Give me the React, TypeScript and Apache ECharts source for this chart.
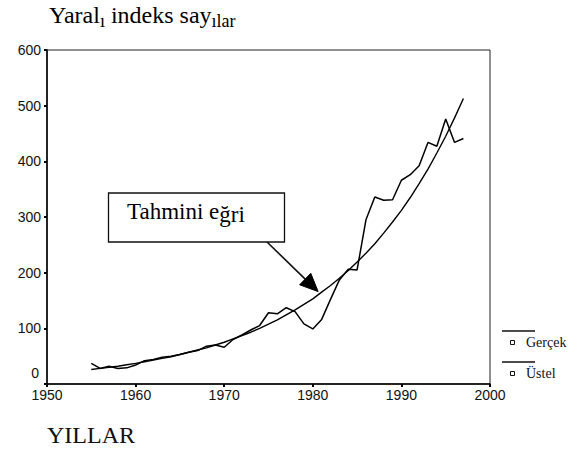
import React, { useEffect, useRef } from 'react';
import * as echarts from 'echarts';

const years = [
  1955, 1956, 1957, 1958, 1959, 1960, 1961, 1962, 1963, 1964,
  1965, 1966, 1967, 1968, 1969, 1970, 1971, 1972, 1973, 1974,
  1975, 1976, 1977, 1978, 1979, 1980, 1981, 1982, 1983, 1984,
  1985, 1986, 1987, 1988, 1989, 1990, 1991, 1992, 1993, 1994,
  1995, 1996, 1997,
];

// Gerçek (actual index values)
const gercek = [
  37, 28, 32, 28, 29, 34, 42, 44, 48, 50,
  53, 57, 60, 68, 70, 66, 80, 88, 97, 105,
  128, 126, 137, 130, 108, 99, 116, 152, 187, 206,
  205, 295, 336, 330, 331, 366, 376, 392, 434, 427,
  476, 434, 441,
];

// Üstel (exponential fitted curve)
const ustel = [
  26, 28, 30, 32, 34.5, 37, 40, 43, 46, 49,
  53, 57, 61, 65, 70, 75, 81, 87, 93, 100,
  107.5, 115, 124, 133, 143, 153, 165, 177, 190, 204,
  219, 235, 252, 271, 291, 312, 335, 360, 386, 415,
  445, 478, 513,
];

const xTicks = [1950, 2000, 10];
const yTicks = [0, 600, 100];
const legendNames = ['Gerçek', 'Üstel'];
const annotation = { label: 'Tahmini e', tail: 'ğri', year: 1980.6, value: 166 };

export default function App() {
  const ref = useRef<HTMLDivElement>(null);

  useEffect(() => {
    if (!ref.current) return;
    const chart = echarts.init(ref.current, null, { renderer: 'svg' });
    const serif = '"Liberation Serif", "Times New Roman", serif';
    const sans = '"Liberation Sans", Arial, sans-serif';

    chart.setOption({
      animation: false,
      backgroundColor: '#fff',
      grid: {
        left: 47,
        right: 92,
        top: 50,
        bottom: 68,
        show: true,
        borderColor: '#222',
        borderWidth: 1,
      },
      xAxis: {
        type: 'value',
        min: xTicks[0],
        max: xTicks[1],
        interval: xTicks[2],
        splitLine: { show: false },
        axisLine: { show: true, lineStyle: { color: '#000', width: 1.5 } },
        axisTick: { show: true, length: 3, lineStyle: { color: '#000', width: 2 } },
        axisLabel: {
          margin: 4,
          color: '#111',
          fontFamily: sans,
          fontSize: 14,
          formatter: (v: number) => String(v),
        },
      },
      yAxis: {
        type: 'value',
        min: yTicks[0],
        max: yTicks[1],
        interval: yTicks[2],
        splitLine: { show: false },
        axisLine: { show: true, lineStyle: { color: '#000', width: 1.5 } },
        axisTick: { show: true, length: 3, lineStyle: { color: '#000', width: 2 } },
        axisLabel: {
          margin: 6,
          color: '#111',
          fontFamily: sans,
          fontSize: 14,
          formatter: (v: number) => (v === 0 ? '{z|0}' : String(v)),
          rich: {
            z: { fontFamily: sans, fontSize: 14, color: '#111', padding: [0, 2, 22, 0] },
          },
        },
      },
      series: [
        {
          name: legendNames[0],
          type: 'line',
          data: years.map((y, i) => [y, gercek[i]]),
          symbol: 'none',
          lineStyle: { color: '#000', width: 1.5 },
        },
        {
          name: legendNames[1],
          type: 'line',
          data: years.map((y, i) => [y, ustel[i]]),
          symbol: 'none',
          lineStyle: { color: '#000', width: 1.4 },
        },
      ],
    });

    const tip = chart.convertToPixel({ gridIndex: 0 }, [annotation.year, annotation.value]) as number[];
    const start = [267, 242];
    const dx = tip[0] - start[0];
    const dy = tip[1] - start[1];
    const len = Math.sqrt(dx * dx + dy * dy);
    const ux = dx / len;
    const uy = dy / len;
    const headLen = 18;
    const headHalf = 8;
    const bx = tip[0] - ux * headLen;
    const by = tip[1] - uy * headLen;

    chart.setOption({
      graphic: [
        {
          type: 'text',
          left: 49,
          top: 3,
          style: {
            text: '{a|Yaral}{b|ı}{a| indeks say}{b|ılar}',
            rich: {
              a: { fontFamily: serif, fontSize: 24, lineHeight: 30, color: '#111', verticalAlign: 'middle' },
              b: { fontFamily: serif, fontSize: 18, lineHeight: 14, color: '#111', verticalAlign: 'bottom' },
            },
          },
        },
        {
          type: 'text',
          left: 47,
          top: 423,
          style: { text: 'YILLAR', fontFamily: serif, fontSize: 24, fill: '#111' },
        },
        {
          type: 'rect',
          shape: { x: 108.5, y: 193, width: 176, height: 49 },
          style: { fill: '#fff', stroke: '#111', lineWidth: 1.3 },
          z: 10,
        },
        {
          type: 'text',
          left: 127,
          top: 200,
          z: 11,
          style: {
            text: '{a|' + annotation.label + '}{b|' + annotation.tail + '}',
            rich: {
              a: { fontFamily: serif, fontSize: 23, lineHeight: 28, color: '#111', verticalAlign: 'middle' },
              b: { fontFamily: serif, fontSize: 23, lineHeight: 20, color: '#111', verticalAlign: 'bottom' },
            },
          },
        },
        {
          type: 'line',
          shape: { x1: start[0], y1: start[1], x2: bx, y2: by },
          style: { stroke: '#111', lineWidth: 1.6 },
          z: 12,
        },
        {
          type: 'polygon',
          shape: {
            points: [
              [tip[0], tip[1]],
              [bx - uy * headHalf, by + ux * headHalf],
              [bx + uy * headHalf, by - ux * headHalf],
            ],
          },
          style: { fill: '#000', stroke: '#000', lineWidth: 1 },
          z: 12,
        },
        // legend
        {
          type: 'line',
          shape: { x1: 502, y1: 331, x2: 535, y2: 331 },
          style: { stroke: '#111', lineWidth: 1.3 },
        },
        {
          type: 'rect',
          shape: { x: 510.5, y: 340.5, width: 4, height: 4 },
          style: { fill: 'none', stroke: '#111', lineWidth: 1 },
        },
        {
          type: 'text',
          left: 526,
          top: 335,
          style: { text: legendNames[0], fontFamily: serif, fontSize: 14, fill: '#111' },
        },
        {
          type: 'line',
          shape: { x1: 502, y1: 362, x2: 535, y2: 362 },
          style: { stroke: '#111', lineWidth: 1.3 },
        },
        {
          type: 'rect',
          shape: { x: 510.5, y: 371.5, width: 4, height: 4 },
          style: { fill: 'none', stroke: '#111', lineWidth: 1 },
        },
        {
          type: 'text',
          left: 526,
          top: 366,
          style: { text: legendNames[1], fontFamily: serif, fontSize: 14, fill: '#111' },
        },
      ],
    });

    return () => chart.dispose();
  }, []);

  return (
    <div
      ref={ref}
      style={{ position: 'fixed', left: 0, top: 0, width: 582, height: 452, background: '#fff' }}
    />
  );
}
